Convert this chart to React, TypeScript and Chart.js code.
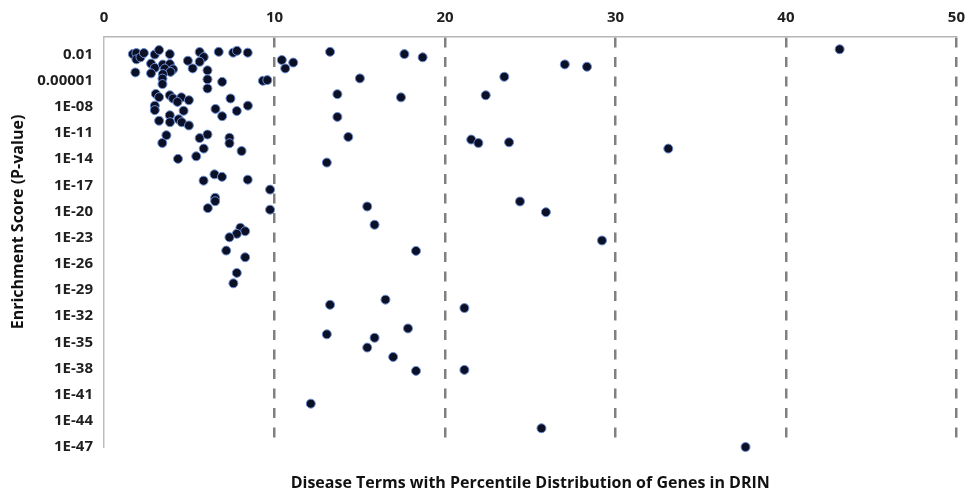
import React, { useEffect, useRef } from "react";
import { Chart, registerables } from "chart.js";

Chart.register(...registerables);

const xValues: number[] = [
  1.69, 1.9, 1.9, 2.14, 2.34, 2.98, 3.23, 3.86, 2.76, 2.98,
  3.45, 3.86, 3.56, 4.05, 3.9, 3.45, 2.76, 1.84, 3.43, 3.43,
  4.92, 5.2, 5.61, 5.85, 5.61, 6.07, 6.07, 6.07, 6.73, 6.93,
  7.58, 7.8, 8.43, 9.32, 9.58, 3.04, 3.23, 3.86, 4.05, 4.54,
  4.31, 4.98, 2.98, 2.98, 4.67, 3.86, 3.23, 3.87, 4.38, 4.56,
  4.98, 6.54, 6.93, 7.42, 7.79, 8.44, 3.66, 3.42, 5.61, 6.07,
  5.85, 5.41, 4.34, 7.36, 7.36, 8.07, 5.84, 6.48, 6.92, 8.43,
  9.74, 6.52, 6.52, 6.09, 9.74, 8.0, 8.28, 7.79, 7.36, 7.17,
  8.28, 7.79, 7.59, 10.43, 11.1, 10.63, 13.26, 17.62, 18.69, 15.01,
  27.03, 28.33, 23.48, 13.69, 17.42, 22.39, 13.69, 14.33, 21.54, 21.96,
  23.76, 13.07, 43.15, 33.1, 15.44, 15.87, 24.4, 25.92, 29.21, 18.3,
  16.51, 13.26, 21.14, 13.07, 15.87, 17.83, 15.44, 16.96, 18.3, 21.14,
  12.13, 25.66, 37.63,
];

const pValues: number[] = [
  1.1e-2, 1.45e-2, 2.75e-3, 4.7e-3, 1.45e-2, 9.8e-3, 3.2e-2, 1.1e-2, 9e-4, 2.9e-4,
  6.9e-4, 7.9e-4, 2.4e-4, 1.95e-4, 1.0e-4, 5.6e-5, 6.8e-5, 8.7e-5, 1.7e-5, 4.0e-6,
  1.9e-3, 2.5e-4, 1.9e-2, 5.0e-3, 1.45e-3, 1.5e-4, 1.4e-5, 1.26e-6, 2.0e-2, 7.2e-6,
  1.6e-2, 2.6e-2, 1.6e-2, 9.5e-6, 1.15e-5, 3.0e-7, 1.26e-7, 2.1e-7, 9e-8, 1.2e-7,
  3.6e-8, 5.7e-8, 1.35e-8, 4.1e-9, 3.5e-9, 1.07e-9, 2.5e-10, 1.7e-10, 3.7e-10, 1.7e-10,
  7.2e-11, 5.7e-9, 8.3e-10, 9e-8, 3.3e-9, 1.35e-8, 5.5e-12, 7.1e-13, 2.6e-12, 6.6e-12,
  1.6e-13, 2.1e-14, 1.07e-14, 2.8e-12, 6.6e-13, 8.5e-14, 3.4e-17, 1.8e-16, 9.3e-17, 4.4e-17,
  3.2e-18, 3.7e-19, 1.5e-19, 2.4e-20, 1.6e-20, 1.35e-22, 5.5e-23, 2.75e-23, 1.1e-23, 3.3e-25,
  5.6e-26, 9e-28, 5.8e-29, 2.3e-3, 1.17e-3, 2.5e-4, 2.0e-2, 1.1e-2, 4.7e-3, 1.8e-5,
  7.2e-4, 3.9e-4, 2.75e-5, 2.8e-7, 1.2e-7, 2.1e-7, 6.9e-10, 3.5e-12, 1.75e-12, 7.1e-13,
  8.5e-13, 4.0e-15, 3.9e-2, 1.6e-13, 3.7e-20, 3.0e-22, 1.4e-19, 8.3e-21, 4.7e-24, 3.0e-25,
  7.8e-31, 2.0e-31, 8.5e-32, 8.3e-35, 3.3e-35, 3.9e-34, 2.5e-36, 2.1e-37, 5.3e-39, 6.9e-39,
  9.3e-43, 1.4e-45, 1.0e-47,
];

const yTickValues: number[] = [
  1e-2, 1e-5, 1e-8, 1e-11, 1e-14, 1e-17, 1e-20, 1e-23, 1e-26, 1e-29, 1e-32, 1e-35,
  1e-38, 1e-41, 1e-44, 1e-47,
];
const yTickLabels: string[] = [
  "0.01", "0.00001", "1E-08", "1E-11", "1E-14", "1E-17", "1E-20", "1E-23", "1E-26",
  "1E-29", "1E-32", "1E-35", "1E-38", "1E-41", "1E-44", "1E-47",
];

const xTitle = "Disease Terms with Percentile Distribution of Genes in DRIN";
const yTitle = "Enrichment Score (P-value)";

const FONT = "'Open Sans'";

export default function App() {
  const ref = useRef<HTMLCanvasElement | null>(null);

  useEffect(() => {
    document.body.style.margin = "0";
    const canvas = ref.current;
    if (!canvas) return;

    const titlesPlugin = {
      id: "titlesPlugin",
      afterDraw(chart: any) {
        const { ctx, chartArea } = chart;
        ctx.save();
        ctx.fillStyle = "#111111";
        ctx.font = `bold 16px ${FONT}`;
        ctx.textAlign = "center";
        ctx.textBaseline = "middle";
        ctx.fillText(xTitle, (chartArea.left + chartArea.right) / 2, 483);
        ctx.translate(18, 222);
        ctx.rotate(-Math.PI / 2);
        ctx.fillText(yTitle, 0, 0);
        ctx.restore();
      },
    };

    const chart = new Chart(canvas, {
      type: "scatter",
      data: {
        datasets: [
          {
            data: xValues.map((x, i) => ({ x, y: pValues[i] })),
            backgroundColor: "#0b1026",
            borderColor: "#6d8fd3",
            borderWidth: 1,
            pointRadius: 4.5,
            pointHoverRadius: 4.5,
            clip: false as any,
          },
        ],
      },
      options: {
        responsive: false,
        animation: false,
        layout: { padding: { left: 0, top: 0, right: 15, bottom: 47 } },
        plugins: {
          legend: { display: false },
          tooltip: { enabled: false },
        },
        scales: {
          x: {
            type: "linear",
            position: "top",
            min: 0,
            max: 50,
            ticks: {
              stepSize: 10,
              padding: 10,
              color: "#1f1f1f",
              font: { family: FONT, size: 15, weight: "bold" },
            },
            grid: {
              display: true,
              drawTicks: false,
              lineWidth: 2.5,
              color: (ctx: any) => (ctx.tick && ctx.tick.value === 0 ? "rgba(0,0,0,0)" : "#808080"),
            },
            border: { display: true, color: "#b5b5b5", width: 1.5, dash: [10, 9.5] },
            afterFit: (scale: any) => {
              scale.height = 37;
            },
          },
          y: {
            type: "logarithmic",
            min: 1e-47,
            max: 1,
            afterBuildTicks: (scale: any) => {
              scale.ticks = yTickValues.map((v) => ({ value: v }));
            },
            ticks: {
              padding: 11,
              color: "#1f1f1f",
              font: { family: FONT, size: 15, weight: "bold" },
              callback: (_v: any, i: number) => yTickLabels[i],
            },
            grid: { display: false, drawTicks: false },
            border: { display: true, color: "#bdbdbd", width: 1.5 },
            afterFit: (scale: any) => {
              scale.width = 104;
            },
          },
        },
      },
      plugins: [titlesPlugin],
    } as any);

    return () => chart.destroy();
  }, []);

  return (
    <div style={{ width: 975, height: 494, background: "#fff" }}>
      <canvas ref={ref} width={975} height={494} />
    </div>
  );
}
